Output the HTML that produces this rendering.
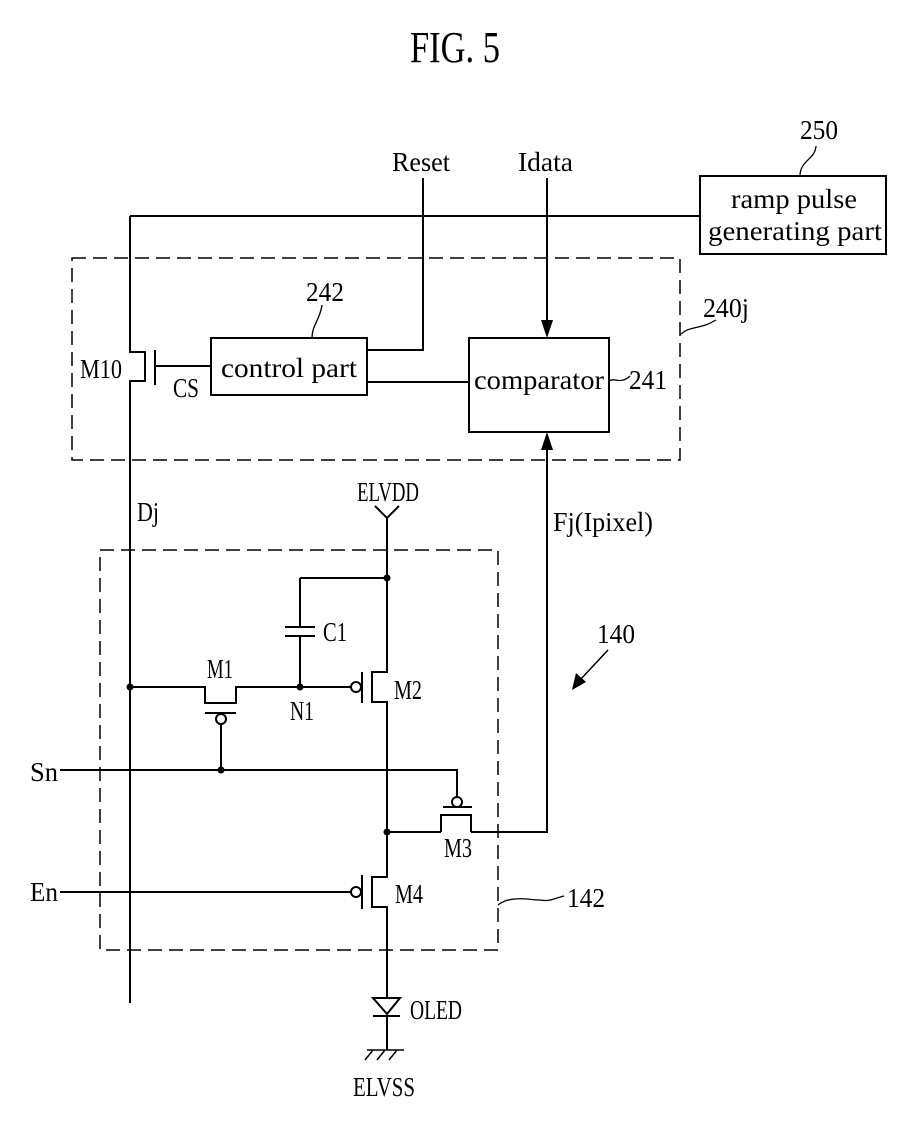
<!DOCTYPE html>
<html><head><meta charset="utf-8"><style>html,body{margin:0;padding:0;background:#fff}svg{display:block}</style></head>
<body>
<svg width="921" height="1146" viewBox="0 0 921 1146" xmlns="http://www.w3.org/2000/svg">
<g font-family="Liberation Serif, serif" fill="#000" font-size="27">
<text x="410" y="62" font-size="44" textLength="90" lengthAdjust="spacingAndGlyphs">FIG. 5</text>
<text x="392" y="171" textLength="58" lengthAdjust="spacingAndGlyphs">Reset</text>
<text x="518" y="171" textLength="55" lengthAdjust="spacingAndGlyphs">Idata</text>
<text x="800" y="139" textLength="38" lengthAdjust="spacingAndGlyphs">250</text>
<text x="731" y="208" textLength="126" lengthAdjust="spacingAndGlyphs">ramp pulse</text>
<text x="708" y="240" textLength="174" lengthAdjust="spacingAndGlyphs">generating part</text>
<text x="703" y="317" textLength="46" lengthAdjust="spacingAndGlyphs">240j</text>
<text x="306" y="301" textLength="38" lengthAdjust="spacingAndGlyphs">242</text>
<text x="629" y="389" textLength="38" lengthAdjust="spacingAndGlyphs">241</text>
<text x="221" y="377" textLength="136" lengthAdjust="spacingAndGlyphs">control part</text>
<text x="474" y="389" textLength="130" lengthAdjust="spacingAndGlyphs">comparator</text>
<text x="80" y="378" textLength="42" lengthAdjust="spacingAndGlyphs">M10</text>
<text x="173" y="397" textLength="26" lengthAdjust="spacingAndGlyphs">CS</text>
<text x="137" y="521" textLength="22" lengthAdjust="spacingAndGlyphs">Dj</text>
<text x="357" y="501" textLength="62" lengthAdjust="spacingAndGlyphs">ELVDD</text>
<text x="553" y="531" textLength="100" lengthAdjust="spacingAndGlyphs">Fj(Ipixel)</text>
<text x="597" y="643" textLength="38" lengthAdjust="spacingAndGlyphs">140</text>
<text x="323" y="641" textLength="24" lengthAdjust="spacingAndGlyphs">C1</text>
<text x="207" y="678" textLength="26" lengthAdjust="spacingAndGlyphs">M1</text>
<text x="290" y="720" textLength="24" lengthAdjust="spacingAndGlyphs">N1</text>
<text x="394" y="699" textLength="28" lengthAdjust="spacingAndGlyphs">M2</text>
<text x="30" y="781" textLength="28" lengthAdjust="spacingAndGlyphs">Sn</text>
<text x="444" y="857" textLength="28" lengthAdjust="spacingAndGlyphs">M3</text>
<text x="30" y="901" textLength="28" lengthAdjust="spacingAndGlyphs">En</text>
<text x="395" y="903" textLength="28" lengthAdjust="spacingAndGlyphs">M4</text>
<text x="567" y="907" textLength="38" lengthAdjust="spacingAndGlyphs">142</text>
<text x="410" y="1019" textLength="52" lengthAdjust="spacingAndGlyphs">OLED</text>
<text x="353" y="1096" textLength="62" lengthAdjust="spacingAndGlyphs">ELVSS</text>
</g>
<g stroke="#000" stroke-width="2" fill="none">
<rect x="72" y="258" width="608" height="202" stroke-dasharray="14,7" stroke-width="1.5"/>
<rect x="100" y="550" width="398" height="400" stroke-dasharray="14,7" stroke-width="1.5"/>
<rect x="700" y="176" width="186" height="78"/>
<rect x="211" y="338" width="156" height="57"/>
<rect x="469" y="338" width="140" height="94"/>
<path d="M130 216 H700"/>
<path d="M130 216 V352 H145 V381 H130 V1003"/>
<path d="M155 350 V385 M155 366 H211"/>
<path d="M423 178 V350 H367"/>
<path d="M367 382 H469"/>
<path d="M547 178 V325"/>
<path d="M547 445 V832 H471"/>
<path d="M609 381 C615 377,620 385,630 376" stroke-width="1.3"/>
<path d="M680 335 C690 325,700 330,716 320" stroke-width="1.3"/>
<path d="M816 146 C815 160,800 160,800 176" stroke-width="1.3"/>
<path d="M312 338 C312 325,320 320,322 305" stroke-width="1.3"/>
<path d="M498 905 C510 895,530 900,540 900 C550 902,555 898,564 896" stroke-width="1.3"/>
<path d="M608 650 L580 680" stroke-width="1.5"/>
<path d="M375 506 L387 518 L399 506 M387 518 V672 H372 V702 H387 V877 H372 V907 H387 V998"/>
<path d="M362 672 V703 M362 875 V909"/>
<path d="M300 578 H387 M300 578 V627 M285 627 H315 M285 636 H315 M300 636 V687"/>
<path d="M130 687 H205 V703 H236 V687 H351"/>
<path d="M205 713 H236 M221 724 V770"/>
<path d="M60 770 H457 V797"/>
<path d="M443 807 H472 M441 832 V815 H471 V832 M387 832 H441"/>
<path d="M60 892 H351"/>
<path d="M373 998 H400 L387 1014 Z M373 1016 H400 M387 1016 V1050"/>
<path d="M367 1050 H404 M373 1050 L365 1060 M385 1050 L377 1060 M397 1050 L389 1060" stroke-width="1.5"/>
</g>
<g fill="#fff" stroke="#000" stroke-width="2">
<circle cx="356" cy="687" r="5"/>
<circle cx="221" cy="719" r="5"/>
<circle cx="457" cy="802" r="5"/>
<circle cx="356" cy="892" r="5"/>
</g>
<g fill="#000">
<circle cx="387" cy="578" r="3.5"/>
<circle cx="130" cy="687" r="3.5"/>
<circle cx="300" cy="687" r="3.5"/>
<circle cx="221" cy="770" r="3.5"/>
<circle cx="387" cy="832" r="3.5"/>
<path d="M541 320 L553 320 L547 338 Z"/>
<path d="M541 450 L553 450 L547 432 Z"/>
<path d="M572 690 L576 673 L586 682 Z"/>
</g>
</svg>
</body></html>
